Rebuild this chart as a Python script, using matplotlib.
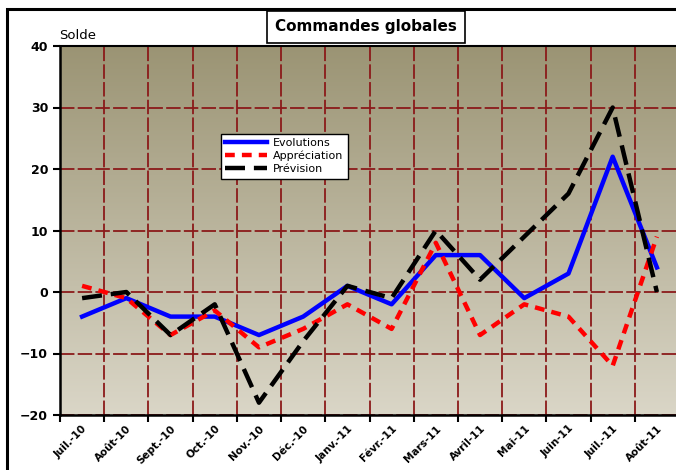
import numpy as np
import matplotlib.pyplot as plt
from matplotlib.patches import Rectangle
from matplotlib.colors import LinearSegmentedColormap

# Data
mois = ["Juil.-10", "Août-10", "Sept.-10", "Oct.-10", "Nov.-10", "Déc.-10", "Janv.-11",
        "Févr.-11", "Mars-11", "Avril-11", "Mai-11", "Juin-11", "Juil.-11", "Août-11"]
evolutions = [-4, -1, -4, -4, -7, -4, 1, -2, 6, 6, -1, 3, 22, 4]
appreciation = [1, -1, -7, -3, -9, -6, -2, -6, 8, -7, -2, -4, -12, 9]
prevision = [-1, 0, -7, -2, -18, -8, 1, -1, 10, 2, 9, 16, 30, 0]

W, H = 676, 470
fig = plt.figure(figsize=(W / 100, H / 100), dpi=100)

# outer frame of the original chart
fig.add_artist(Rectangle((7 / W, -0.1), 1.2, 1 - 9 / H + 0.1, transform=fig.transFigure,
                         fill=False, edgecolor="black", linewidth=2.2))

ax = fig.add_axes([60 / W, 55 / H, 619 / W, 369 / H])

# background gradient
grad = np.linspace(0, 1, 256).reshape(-1, 1)
cmap = LinearSegmentedColormap.from_list("bg", ["#9b9474", "#dad6c7"])
ax.imshow(grad, cmap=cmap, aspect="auto", extent=[0, 1, 0, 1],
          transform=ax.transAxes, zorder=0)

x = np.arange(len(mois)) + 0.5
ax.plot(x, evolutions, color="#0000ff", lw=3.2, label="Evolutions", zorder=3)
ax.plot(x, appreciation, color="#ff0000", lw=3.2, ls=(0, (2.2, 1.6)), label="Appréciation",
        zorder=3)
ax.plot(x, prevision, color="black", lw=3.2, ls=(0, (4.5, 2)), label="Prévision", zorder=4)

ax.set_xlim(0, len(mois))
ax.set_ylim(-20, 40)
ax.set_yticks(range(-20, 41, 10))
ax.set_xticks(np.arange(len(mois)))
ax.set_xticks(x, minor=True)
ax.set_xticklabels([])
ax.set_xticklabels(mois, minor=True, rotation=45, ha="right", rotation_mode="anchor",
                   fontsize=7.5, fontweight="bold")
ax.tick_params(axis="x", which="minor", length=0, pad=6)
ax.tick_params(axis="x", which="major", length=5, width=1.5, direction="out")
ax.tick_params(axis="y", length=5, width=1.5, direction="out")
for lab in ax.get_yticklabels():
    lab.set_fontweight("bold")
    lab.set_fontsize(9)

ax.grid(True, which="major", color="#8b1a1a", ls=(0, (8, 1.8)), lw=1.3, zorder=1)
ax.set_axisbelow(True)
for s in ["left", "bottom"]:
    ax.spines[s].set_linewidth(1.8)
ax.spines["top"].set_linewidth(1.5)
ax.spines["right"].set_visible(False)

fig.text(59 / W, 1 - 39 / H, "Solde", fontsize=9.5, va="baseline", ha="left")

fig.text(366 / W, 1 - 27 / H, "Commandes globales", fontsize=11, fontweight="bold",
         ha="center", va="center",
         bbox=dict(boxstyle="square,pad=0.55", fc="white", ec="black", lw=1.2))

leg = ax.legend(loc="upper left", bbox_to_anchor=((215 - 60) / 619, (415 - 128) / 369),
                fontsize=8, frameon=True, fancybox=False, handlelength=3.8,
                borderpad=0.4, labelspacing=0.25, handletextpad=0.5)
leg.get_frame().set_edgecolor("black")
leg.get_frame().set_linewidth(1.0)
leg.get_frame().set_facecolor("white")
leg.get_frame().set_alpha(1)

fig.savefig("out.png", dpi=100)
